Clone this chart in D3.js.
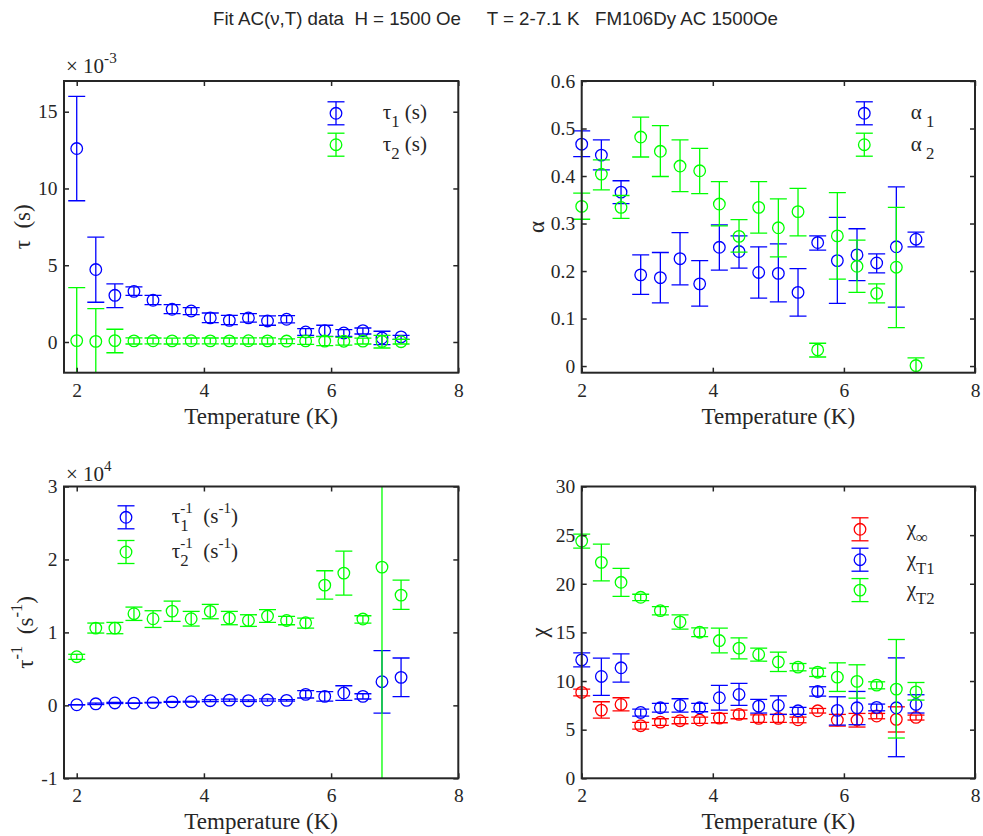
<!DOCTYPE html>
<html><head><meta charset="utf-8">
<script src="https://cdn.jsdelivr.net/npm/d3@7"></script>
<style>
html,body{margin:0;padding:0;background:#fff;}
svg text{white-space:pre;}
</style></head><body>
<svg id="chart" width="983" height="836"></svg>
<script>
// ---------------- DATA ----------------
const temps = [2.0,2.3,2.6,2.9,3.2,3.5,3.8,4.1,4.4,4.7,5.0,5.3,5.6,5.9,6.2,6.5,6.8,7.1];

// tau (units of 1e-3 s)
const tau1   = [12.6,4.72,3.04,3.30,2.72,2.13,2.02,1.57,1.41,1.57,1.37,1.48,0.65,0.74,0.59,0.74,0.26,0.33];
const tau1Hi = [16.0,6.83,3.78,3.59,3.04,2.43,2.24,1.89,1.74,1.85,1.70,1.72,0.87,1.09,0.80,0.91,0.70,0.43];
const tau1Lo = [9.2,2.59,2.24,3.04,2.43,1.85,1.78,1.26,1.13,1.30,1.09,1.24,0.43,0.37,0.37,0.52,-0.17,0.17];
const tau2   = [0.09,0.04,0.09,0.07,0.08,0.07,0.08,0.07,0.07,0.08,0.07,0.06,0.07,0.06,0.05,0.06,0.04,0.02];
const tau2Hi = [3.54,2.17,0.83,0.27,0.26,0.25,0.26,0.26,0.26,0.27,0.27,0.20,0.30,0.35,0.30,0.25,0.43,0.17];
const tau2Lo = [-3.36,-2.09,-0.70,-0.13,-0.12,-0.13,-0.12,-0.12,-0.12,-0.13,-0.13,-0.10,-0.16,-0.23,-0.20,-0.13,-0.39,-0.13];

// alpha
const alpha1   = [0.467,0.444,0.366,0.192,0.186,0.226,0.173,0.250,0.241,0.197,0.195,0.155,0.260,0.222,0.234,0.217,0.251,0.267];
const alpha1Hi = [0.495,0.476,0.390,0.234,0.239,0.281,0.222,0.297,0.274,0.251,0.257,0.205,0.274,0.313,0.289,0.236,0.377,0.282];
const alpha1Lo = [0.441,0.413,0.342,0.151,0.133,0.171,0.126,0.202,0.206,0.143,0.135,0.105,0.244,0.132,0.180,0.196,0.124,0.251];
const alpha2   = [0.336,0.404,0.334,0.482,0.452,0.421,0.411,0.341,0.273,0.334,0.291,0.325,0.034,0.274,0.210,0.153,0.208,0.001];
const alpha2Hi = [0.364,0.434,0.359,0.524,0.506,0.476,0.458,0.388,0.308,0.388,0.352,0.374,0.048,0.365,0.265,0.173,0.334,0.017];
const alpha2Lo = [0.309,0.371,0.311,0.440,0.399,0.367,0.363,0.295,0.240,0.280,0.230,0.274,0.019,0.183,0.155,0.133,0.081,-0.015];

// tau^-1 (units of 1e4 s^-1)
const tau1inv   = [0.008,0.021,0.033,0.030,0.037,0.047,0.050,0.064,0.071,0.064,0.073,0.068,0.151,0.123,0.169,0.123,0.324,0.384];
const tau1invHi = [0.010,0.031,0.041,0.033,0.041,0.053,0.056,0.077,0.086,0.075,0.089,0.079,0.201,0.188,0.269,0.159,0.749,0.649];
const tau1invLo = [0.006,0.011,0.025,0.027,0.033,0.041,0.044,0.051,0.056,0.053,0.057,0.057,0.101,0.058,0.069,0.087,-0.106,0.119];
const tau2inv   = [0.667,1.059,1.059,1.256,1.187,1.292,1.187,1.288,1.196,1.164,1.224,1.164,1.132,1.648,1.813,1.183,1.895,1.511];
const tau2invHi = [0.700,1.128,1.137,1.347,1.297,1.429,1.288,1.384,1.288,1.242,1.311,1.219,1.196,1.845,2.114,1.228,5.000,1.717];
const tau2invLo = [0.630,0.991,0.982,1.164,1.068,1.151,1.087,1.187,1.105,1.082,1.137,1.105,1.059,1.457,1.511,1.128,-1.200,1.315];

// chi
const chiInf   = [8.83,7.01,7.59,5.41,5.78,5.92,5.99,6.19,6.57,6.16,6.16,6.02,6.94,5.99,5.99,6.40,6.06,6.26];
const chiInfHi = [9.17,7.87,8.28,5.75,6.12,6.26,6.29,6.67,7.01,6.53,6.57,6.29,7.18,6.57,6.67,6.67,7.35,6.50];
const chiInfLo = [8.48,6.19,6.94,5.06,5.44,5.61,5.64,5.71,6.12,5.75,5.75,5.71,6.71,5.37,5.27,6.12,4.76,5.99];
const chiT1    = [12.18,10.47,11.36,6.77,7.25,7.49,7.25,8.28,8.62,7.42,7.49,6.94,8.93,6.98,7.25,7.29,7.25,7.59];
const chiT1Hi  = [12.90,12.35,12.80,7.12,7.70,8.18,7.70,9.55,9.75,8.11,8.48,7.29,9.41,8.38,8.93,7.63,12.38,8.59];
const chiT1Lo  = [11.46,8.52,9.89,6.40,6.81,6.81,6.84,7.01,7.49,6.71,6.57,6.57,8.45,5.47,5.51,6.94,2.22,6.71];
const chiT2    = [24.39,22.20,20.15,18.61,17.24,16.08,15.02,14.16,13.38,12.73,11.97,11.43,10.91,10.40,9.96,9.58,9.17,8.89];
const chiT2Hi  = [25.11,24.08,21.59,18.92,17.65,16.80,15.46,15.43,14.44,13.38,12.97,11.80,11.32,11.87,11.67,9.92,14.27,9.85];
const chiT2Lo  = [23.67,20.29,18.71,18.27,16.80,15.33,14.57,12.90,12.28,12.04,10.98,11.05,10.47,8.93,8.24,9.20,4.14,8.04];

// ticks
const xTicks   = [2,4,6,8];
const tauTicks = [0,5,10,15];
const alphaTicks = [0,0.1,0.2,0.3,0.4,0.5,0.6];
const invTicks = [-1,0,1,2,3];
const chiTicks = [0,5,10,15,20,25,30];

const titleText = "Fit AC(\u03bd,T) data  H = 1500 Oe     T = 2-7.1 K   FM106Dy AC 1500Oe";

// ---------------- DRAW ----------------
const BLUE = "#0000ff", GREEN = "#00ff00", RED = "#ff0000", AX = "#262626";
const SERIF = "'Liberation Serif','Times New Roman',serif";
const svg = d3.select("#chart");

function rich(parent, x, y, parts, size, anchor, rotate) {
  const outer = parent.append("g").attr("transform", `translate(${x},${y})` + (rotate ? " rotate(-90)" : ""));
  const grp = outer.append("g").attr("font-family", SERIF).attr("fill", AX);
  let cx = 0;
  parts.forEach(p => {
    if (p.stack) {
      const a = grp.append("text").attr("x", cx).attr("y", -size * 0.48).attr("font-size", size * 0.72).text(p.stack[0]);
      const b = grp.append("text").attr("x", cx).attr("y", size * 0.38).attr("font-size", size * 0.8).text(p.stack[1]);
      cx += Math.max(a.node().getComputedTextLength(), b.node().getComputedTextLength());
    } else {
      const dy = p.k === "sup" ? -size * 0.48 : p.k === "sub" ? size * 0.38 : 0;
      const fs = p.k === "sup" ? size * 0.72 : p.k === "sub" ? size * 0.8 : size;
      const t = grp.append("text").attr("x", cx).attr("y", dy).attr("font-size", fs).text(p.t);
      cx += t.node().getComputedTextLength();
    }
  });
  const off = anchor === "middle" ? -cx / 2 : anchor === "end" ? -cx : 0;
  grp.attr("transform", `translate(${off},0)`);
  return outer;
}

function panel(cfg) {
  const {L, R, T, B} = cfg.box;
  const x = d3.scaleLinear().domain(cfg.xDomain).range([L, R]);
  const y = d3.scaleLinear().domain(cfg.yDomain).range([B, T]);
  const g = svg.append("g");
  const id = "clip" + cfg.id;
  svg.append("defs").append("clipPath").attr("id", id)
    .append("rect").attr("x", L - 30).attr("y", T).attr("width", R - L + 60).attr("height", B - T);

  // data
  const dg = g.append("g").attr("clip-path", `url(#${id})`);
  cfg.series.forEach(s => {
    const sg = dg.append("g").attr("stroke", s.color).attr("fill", "none").attr("stroke-width", 1.3);
    temps.forEach((t, i) => {
      const px = x(t);
      sg.append("line").attr("x1", px).attr("x2", px).attr("y1", y(s.lo[i])).attr("y2", y(s.hi[i]));
      sg.append("line").attr("x1", px - 8.5).attr("x2", px + 8.5).attr("y1", y(s.lo[i])).attr("y2", y(s.lo[i]));
      sg.append("line").attr("x1", px - 8.5).attr("x2", px + 8.5).attr("y1", y(s.hi[i])).attr("y2", y(s.hi[i]));
    });
    temps.forEach((t, i) => {
      sg.append("circle").attr("cx", x(t)).attr("cy", y(s.v[i])).attr("r", 5.8);
    });
  });

  // axes
  const fmtY = cfg.yFmt || (d => d);
  const ax = g.append("g").attr("font-family", SERIF);
  ax.append("g").attr("transform", `translate(0,${B})`)
    .call(d3.axisBottom(x).tickValues(xTicks).tickSize(-5).tickPadding(10).tickFormat(d => d));
  ax.append("g").attr("transform", `translate(0,${T})`)
    .call(d3.axisTop(x).tickValues(xTicks).tickSize(-5).tickFormat(""));
  ax.append("g").attr("transform", `translate(${L},0)`)
    .call(d3.axisLeft(y).tickValues(cfg.yTicks).tickSize(-5).tickPadding(6.5).tickFormat(fmtY));
  ax.append("g").attr("transform", `translate(${R},0)`)
    .call(d3.axisRight(y).tickValues(cfg.yTicks).tickSize(-5).tickFormat(""));
  ax.selectAll(".domain").remove();
  ax.selectAll(".tick line").attr("stroke", AX).attr("stroke-width", 1.5);
  ax.selectAll(".tick text").attr("fill", AX).attr("font-size", 19.5).attr("font-family", SERIF);
  g.append("rect").attr("x", L).attr("y", T).attr("width", R - L).attr("height", B - T)
    .attr("fill", "none").attr("stroke", AX).attr("stroke-width", 2);

  // labels
  rich(g, (L + R) / 2, cfg.xLabelY, [{t: "Temperature (K)"}], 23, "middle");
  rich(g, cfg.yLabelX, (T + B) / 2, cfg.yLabel, 23, "middle", true);
  if (cfg.expo) rich(g, L + 2, cfg.expo.y, cfg.expo.parts, 21, "start");

  // legend
  cfg.legend.forEach((it, j) => {
    const lx = cfg.legPos.x, ly = cfg.legPos.y + j * cfg.legPos.dy;
    const lg = g.append("g").attr("stroke", it.color).attr("fill", "none").attr("stroke-width", 1.3);
    lg.append("line").attr("x1", lx).attr("x2", lx).attr("y1", ly - 11.5).attr("y2", ly + 11.5);
    lg.append("line").attr("x1", lx - 8.5).attr("x2", lx + 8.5).attr("y1", ly - 11.5).attr("y2", ly - 11.5);
    lg.append("line").attr("x1", lx - 8.5).attr("x2", lx + 8.5).attr("y1", ly + 11.5).attr("y2", ly + 11.5);
    lg.append("circle").attr("cx", lx).attr("cy", ly).attr("r", 5.8);
    rich(g, cfg.legPos.tx, ly + 6, it.parts, 21, "start");
  });
}

// title
svg.append("text").attr("x", 495.5).attr("y", 25).attr("text-anchor", "middle")
  .attr("font-family", "'Liberation Sans',Arial,sans-serif").attr("font-size", 18.5).attr("fill", AX)
  .attr("textLength", 565).attr("lengthAdjust", "spacingAndGlyphs")
  .text(titleText);

const topBox = {T: 81, B: 372.7}, botBox = {T: 486.5, B: 778.3};

panel({
  id: 1, box: {L: 64, R: 458.3, ...topBox}, xDomain: [1.8, 8], yDomain: [-2, 17], yTicks: tauTicks,
  series: [
    {v: tau1, hi: tau1Hi, lo: tau1Lo, color: BLUE},
    {v: tau2, hi: tau2Hi, lo: tau2Lo, color: GREEN}
  ],
  xLabelY: 424, yLabelX: 30,
  yLabel: [{t: "\u03c4  (s)"}],
  expo: {y: 73.3, parts: [{t: "\u00d7 10"}, {t: "-3", k: "sup"}]},
  legPos: {x: 336, y: 113.3, dy: 31.4, tx: 382.7},
  legend: [
    {color: BLUE, parts: [{t: "\u03c4"}, {t: "1", k: "sub"}, {t: " (s)"}]},
    {color: GREEN, parts: [{t: "\u03c4"}, {t: "2", k: "sub"}, {t: " (s)"}]}
  ]
});

panel({
  id: 2, box: {L: 581.7, R: 975, ...topBox}, xDomain: [2, 8], yDomain: [-0.014, 0.6], yTicks: alphaTicks,
  yFmt: d => d3.format(".1f")(d).replace(/^0\.0$/, "0"),
  series: [
    {v: alpha1, hi: alpha1Hi, lo: alpha1Lo, color: BLUE},
    {v: alpha2, hi: alpha2Hi, lo: alpha2Lo, color: GREEN}
  ],
  xLabelY: 424, yLabelX: 544,
  yLabel: [{t: "\u03b1"}],
  legPos: {x: 864.3, y: 113.3, dy: 31.4, tx: 910.7},
  legend: [
    {color: BLUE, parts: [{t: "\u03b1"}, {t: " 1", k: "sub"}]},
    {color: GREEN, parts: [{t: "\u03b1"}, {t: " 2", k: "sub"}]}
  ]
});

panel({
  id: 3, box: {L: 64, R: 458.3, ...botBox}, xDomain: [1.8, 8], yDomain: [-1, 3], yTicks: invTicks,
  series: [
    {v: tau1inv, hi: tau1invHi, lo: tau1invLo, color: BLUE},
    {v: tau2inv, hi: tau2invHi, lo: tau2invLo, color: GREEN}
  ],
  xLabelY: 829, yLabelX: 33,
  yLabel: [{t: "\u03c4"}, {t: "-1", k: "sup"}, {t: "  (s"}, {t: "-1", k: "sup"}, {t: ")"}],
  expo: {y: 481, parts: [{t: "\u00d7 10"}, {t: "4", k: "sup"}]},
  legPos: {x: 126, y: 517.3, dy: 34.7, tx: 171.7},
  legend: [
    {color: BLUE, parts: [{t: "\u03c4"}, {stack: ["-1", "1"]}, {t: "  (s"}, {t: "-1", k: "sup"}, {t: ")"}]},
    {color: GREEN, parts: [{t: "\u03c4"}, {stack: ["-1", "2"]}, {t: "  (s"}, {t: "-1", k: "sup"}, {t: ")"}]}
  ]
});

panel({
  id: 4, box: {L: 581.7, R: 975, ...botBox}, xDomain: [2, 8], yDomain: [0, 30], yTicks: chiTicks,
  series: [
    {v: chiInf, hi: chiInfHi, lo: chiInfLo, color: RED},
    {v: chiT1, hi: chiT1Hi, lo: chiT1Lo, color: BLUE},
    {v: chiT2, hi: chiT2Hi, lo: chiT2Lo, color: GREEN}
  ],
  xLabelY: 829, yLabelX: 547,
  yLabel: [{t: "\u03c7"}],
  legPos: {x: 860, y: 529.3, dy: 30.4, tx: 906.7},
  legend: [
    {color: RED, parts: [{t: "\u03c7"}, {t: "\u221e", k: "sub"}]},
    {color: BLUE, parts: [{t: "\u03c7"}, {t: "T1", k: "sub"}]},
    {color: GREEN, parts: [{t: "\u03c7"}, {t: "T2", k: "sub"}]}
  ]
});
</script>
</body></html>
